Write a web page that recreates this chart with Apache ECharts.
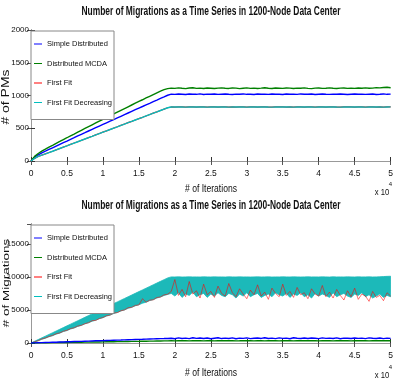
<!DOCTYPE html>
<html><head><meta charset="utf-8">
<script src="https://cdn.jsdelivr.net/npm/echarts@6/dist/echarts.min.js"></script>
<style>html,body{margin:0;padding:0;background:#fff}#c{width:396px;height:382px}</style>
</head><body><div id="c"></div>
<script>
const chartTitle = 'Number of Migrations as a Time Series in 1200-Node Data Center';
const seriesNames = ['Simple Distributed', 'Distributed MCDA', 'First Fit', 'First Fit Decreasing'];
const xTickLabels = ['0','0.5','1','1.5','2','2.5','3','3.5','4','4.5','5'];
const iterations = [0,500,1000,1500,2000,2500,3000,3500,4000,4500,5000,5500,6000,6500,7000,7500,8000,8500,9000,9500,10000,10500,11000,11500,12000,12500,13000,13500,14000,14500,15000,15500,16000,16500,17000,17500,18000,18500,19000,19500,20000,20500,21000,21500,22000,22500,23000,23500,24000,24500,25000,25500,26000,26500,27000,27500,28000,28500,29000,29500,30000,30500,31000,31500,32000,32500,33000,33500,34000,34500,35000,35500,36000,36500,37000,37500,38000,38500,39000,39500,40000,40500,41000,41500,42000,42500,43000,43500,44000,44500,45000,45500,46000,46500,47000,47500,48000,48500,49000,49500,50000];

// Top chart: # of PMs
const pmSimple = [0,58,95,125,150,176,202,228,254,280,305,331,356,382,407,432,458,483,508,533,558,583,608,633,658,683,708,733,758,783,808,832,857,881,906,930,955,979,1004,
1020,1017,1023,1019,1015,1022,1020,1018,1024,1016,1021,1019,1023,1017,1020,1022,1018,1015,1021,1019,1024,1018,1020,1016,1022,1019,1021,1017,1023,1020,1018,1015,1022,1019,1021,1017,1024,1020,1018,1022,1016,1020,1023,1019,1017,1021,1018,1022,1020,1015,1019,1023,1018,1021,1017,1020,1022,1016,1019,1024,1018,1021];
const pmMCDA = [0,70,115,150,180,212,240,270,298,327,355,384,412,441,469,497,525,553,581,609,637,664,692,720,747,774,801,828,855,882,909,935,962,988,1014,1040,1066,1090,1105,
1112,1108,1116,1110,1105,1114,1118,1109,1112,1107,1115,1111,1106,1113,1117,1110,1108,1114,1112,1105,1111,1116,1109,1113,1107,1112,1118,1110,1106,1114,1111,1108,1115,1112,1107,1113,1110,1116,1109,1105,1112,1114,1108,1111,1117,1110,1106,1113,1115,1109,1112,1108,1114,1111,1116,1110,1113,1120,1117,1122,1126,1118];
const pmFirstFit = [0,40,70,90,108,129,149,170,191,212,232,253,274,294,315,336,357,377,398,419,440,460,481,502,522,543,564,585,605,626,647,667,688,709,730,750,771,792,813,
825,824,826,825,823,826,825,824,826,825,823,825,826,824,825,826,823,825,824,826,825,823,826,825,824,825,826,824,823,825,826,825,824,826,823,825,825,824,826,825,823,826,825,824,825,826,824,823,825,826,825,824,826,825,823,825,826,824,825,823,825,826];
const pmFFD = [0,40,70,90,108,129,149,170,191,212,232,253,274,294,315,336,357,377,398,419,440,460,481,502,522,543,564,585,605,626,647,667,688,709,730,750,771,792,813,
825,824,826,825,823,826,825,824,826,825,823,825,826,824,825,826,823,825,824,826,825,823,826,825,824,825,826,824,823,825,826,825,824,826,823,825,825,824,826,825,823,826,825,824,825,826,824,823,825,826,825,824,826,825,823,825,826,824,825,823,825,826];

// Bottom chart: # of Migrations
const migSimple = [0,20,40,50,70,90,110,120,140,160,180,200,220,230,250,270,290,310,330,340,360,380,400,420,440,450,470,490,510,530,550,560,580,600,620,640,660,670,690,
720,650,780,690,740,660,800,700,750,680,760,640,720,790,670,730,690,770,650,740,700,780,660,720,750,690,800,680,730,660,770,700,740,650,790,720,680,750,690,760,710,660,780,700,740,680,770,650,730,720,690,760,700,740,670,780,710,690,750,660,730,700];
const migMCDA = [0,10,20,25,35,40,50,60,70,75,85,95,100,110,120,130,135,145,155,160,170,180,190,195,205,215,220,230,240,250,255,265,275,280,290,300,310,315,325,
340,320,360,330,350,315,345,335,365,325,340,355,320,345,330,360,335,350,320,340,365,330,345,325,355,340,315,350,335,360,325,345,340,355,320,350,335,360,330,345,340,320,355,335,350,325,360,340,330,345,320,355,340,335,350,325,345,360,330,340,335,350];
const migFirstFit = [0,180,360,600,760,980,1150,1400,1530,1780,1920,2180,2300,2560,2680,2920,3080,3380,3420,3700,3860,4120,4230,4530,4600,4880,5010,5330,5400,5680,5760,6700,6170,6480,6530,6880,6960,7280,7380,
7800,9600,7200,8100,7000,9300,7400,7900,6800,8900,7300,7800,6900,8600,7500,7100,9000,7600,7000,8200,7400,6700,8000,7300,8800,7100,7700,6600,8300,7500,7000,8900,7200,7800,6900,8400,7300,7600,6700,8200,7400,7100,8700,7000,7700,6800,8100,7200,6500,7900,7000,8300,6600,7400,7100,6300,7800,6900,7200,6400,7600,7100];
const migFFDLow = [0,160,330,560,720,950,1100,1340,1490,1730,1880,2120,2270,2510,2660,2900,3050,3290,3440,3680,3830,4070,4220,4460,4610,4850,5000,5240,5390,5630,5780,6020,6170,6410,6560,6800,6950,7190,7340,
7500,7100,7600,6900,7400,7200,7700,7000,7300,7500,6900,7400,7100,7600,7200,7000,7500,7300,6800,7400,7100,7600,7000,7300,7500,6900,7200,7400,7000,7600,7300,7100,7500,6900,7400,7200,7600,7000,7300,6800,7500,7100,7400,7200,6900,7600,7000,7300,7500,7100,6900,7400,7200,7600,7000,7300,6800,7100,7400,6900,7200,7000];
const migFFDHigh = [0,259,518,777,1036,1295,1554,1813,2073,2332,2591,2850,3109,3368,3627,3886,4145,4404,4663,4922,5181,5440,5699,5959,6218,6477,6736,6995,7254,7513,7772,8031,8290,8549,8808,9067,9326,9585,9845,
10000,9990,10010,9980,10000,10005,9995,10000,9985,10010,10000,9990,10005,9995,10000,9980,10010,10000,9990,10005,9995,10000,9985,10000,10010,9990,10000,10005,9980,10000,9995,10010,10000,9990,10005,10000,9985,10000,10010,9995,10000,9990,10005,10000,9980,10010,9995,10000,9990,10005,10000,9985,10010,9995,10000,10005,9990,10000,10020,10050,10080,10100];

const colors = ['#0000ff', '#008000', '#ff0000', '#00bfbf'];
const FONT = '"Liberation Sans", Arial, sans-serif';

const pairs = arr => arr.map((v, i) => [iterations[i], v]);

function xAxes(gridIndex) {
  return [
    { type: 'value', gridIndex, position: 'bottom', min: 0, max: 50000, interval: 5000,
      axisLine: { lineStyle: { color: '#333', width: 1 } },
      axisTick: { inside: true, length: 4, lineStyle: { color: '#333' } },
      axisLabel: { margin: 8, fontFamily: FONT, fontSize: 8.5, color: '#111',
        formatter: v => xTickLabels[Math.round(v / 5000)] },
      splitLine: { show: false } },
    { type: 'value', gridIndex, position: 'top', min: 0, max: 50000, interval: 5000,
      axisLine: { lineStyle: { color: '#999', width: 1 } },
      axisTick: { inside: true, length: 4, lineStyle: { color: '#555' } },
      axisLabel: { show: false }, splitLine: { show: false } }
  ];
}
function yAxes(gridIndex, max, interval) {
  return [
    { type: 'value', gridIndex, position: 'left', min: 0, max, interval,
      axisLine: { show: true, lineStyle: { color: '#333', width: 1 } },
      axisTick: { show: true, inside: true, length: 4, lineStyle: { color: '#333' } },
      axisLabel: { margin: 2, fontFamily: FONT, fontSize: 8, color: '#111',
        showMaxLabel: max % interval === 0, formatter: v => String(v) },
      splitLine: { show: false } },
    { type: 'value', gridIndex, position: 'right', min: 0, max, interval,
      axisLine: { show: true, lineStyle: { color: '#999', width: 1 } },
      axisTick: { show: true, inside: true, length: 4, lineStyle: { color: '#555' } },
      axisLabel: { show: false }, splitLine: { show: false } }
  ];
}
function line(name, data, xi, yi, color, width, opacity) {
  return { type: 'line', name, data: pairs(data), xAxisIndex: xi, yAxisIndex: yi,
    showSymbol: false, symbol: 'none', color, lineStyle: { color, width, opacity: opacity == null ? 1 : opacity },
    emphasis: { disabled: true }, animation: false };
}
function legend(top) {
  return { left: 31, top, orient: 'vertical', icon: 'rect', itemWidth: 8, itemHeight: 1,
    itemGap: 7.5, padding: [7, 2, 11, 3], backgroundColor: '#fff', borderColor: '#888', borderWidth: 1,
    borderRadius: 0, selectedMode: false,
    textStyle: { fontFamily: FONT, fontSize: 7.5, lineHeight: 12, color: '#111' },
    data: seriesNames.map(n => ({ name: n })) };
}
function txt(text, x, y, fontSize, fontWeight, extra) {
  return Object.assign({ type: 'text', x, y, silent: true, z: 100,
    style: { text, fontSize, fontFamily: FONT, fontWeight: fontWeight || 'normal', fill: '#111',
      align: 'center', verticalAlign: 'middle' } }, extra || {});
}

// band rows: [iteration, low, high]
const bandData = iterations.map((x, i) => [x, migFFDLow[i], migFFDHigh[i]]);

const chart = echarts.init(document.getElementById('c'), null, { renderer: 'canvas' });
chart.setOption({
  animation: false,
  backgroundColor: '#fff',
  grid: [
    { left: 31, top: 30, width: 360, height: 131 },
    { left: 31, top: 224, width: 360, height: 119 }
  ],
  xAxis: [...xAxes(0), ...xAxes(1)],
  yAxis: [...yAxes(0, 2000, 500), ...yAxes(1, 18000, 5000)],
  legend: [legend(31), legend(225)],
  series: [
    line(seriesNames[0], pmSimple, 0, 0, colors[0], 1.4),
    line(seriesNames[1], pmMCDA, 0, 0, colors[1], 1.4),
    line(seriesNames[2], pmFirstFit, 0, 0, colors[2], 1.2),
    line(seriesNames[3], pmFFD, 0, 0, colors[3], 1.4),
    { type: 'custom', name: seriesNames[3], xAxisIndex: 2, yAxisIndex: 2, data: bandData,
      encode: { x: 0, y: [1, 2] }, itemStyle: { color: colors[3] }, animation: false, clip: true,
      renderItem: (params, api) => {
        if (params.dataIndex !== 0) return null;
        const top = bandData.map(r => api.coord([r[0], r[2]]));
        const bottom = bandData.map(r => api.coord([r[0], r[1]])).reverse();
        return { type: 'polygon', shape: { points: top.concat(bottom) },
          style: { fill: '#1cb9b9', stroke: '#1cb9b9', lineWidth: 0.8 } };
      } },
    line(seriesNames[2], migFirstFit, 2, 2, colors[2], 0.8, 0.7),
    line(seriesNames[1], migMCDA, 2, 2, colors[1], 1.4),
    line(seriesNames[0], migSimple, 2, 2, colors[0], 1.4)
  ],
  graphic: [
    txt(chartTitle, 211, 12, 12, 'bold', { scaleX: 0.7 }),
    txt(chartTitle, 211, 205.5, 12, 'bold', { scaleX: 0.7 }),
    txt('# of PMs', 6, 97, 14, 'normal', { rotation: Math.PI / 2, scaleY: 0.72 }),
    txt('# of Migrations', 6, 283, 13.5, 'normal', { rotation: Math.PI / 2, scaleY: 0.72 }),
    txt('# of Iterations', 211, 189, 11, 'normal', { scaleX: 0.78 }),
    txt('# of Iterations', 211, 372.5, 11, 'normal', { scaleX: 0.78 }),
    txt('x 10', 382, 193, 9, 'normal', { scaleX: 0.85 }),
    txt('4', 390.5, 184.5, 6),
    txt('x 10', 382, 375.5, 9, 'normal', { scaleX: 0.85 }),
    txt('4', 390.5, 367, 6)
  ]
});
</script></body></html>
